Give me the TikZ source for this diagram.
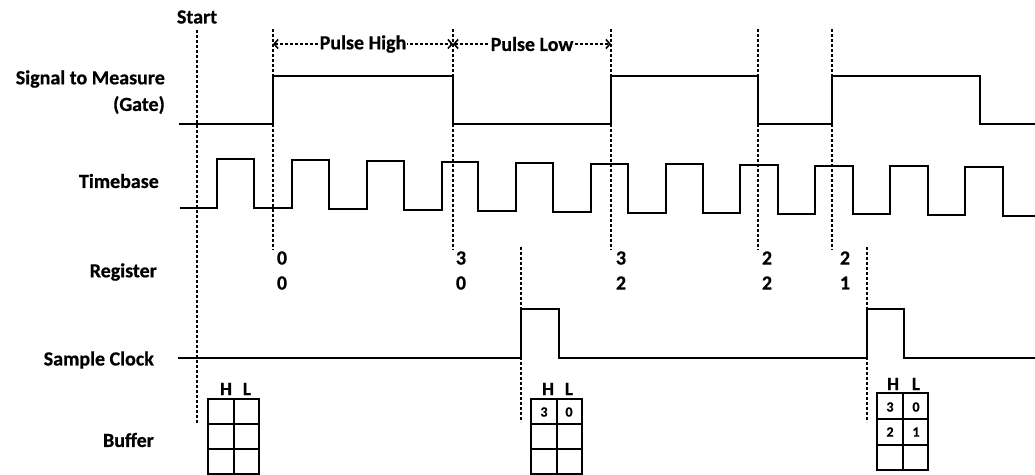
\documentclass[tikz,border=0pt]{standalone}
\usepackage{fontspec}
\setmainfont{Carlito}[BoldFeatures={FakeBold=0.6}]
\usetikzlibrary{arrows.meta}
\begin{document}
\begin{tikzpicture}[x=1pt,y=-1pt,
  sig/.style={line width=2.5pt, line join=miter},
  vdash/.style={line width=2.2pt, dash pattern=on 3pt off 2pt},
  lbl/.style={font=\fontsize{20}{24}\selectfont\bfseries, anchor=east, inner sep=0pt},
  txt/.style={font=\fontsize{20}{24}\selectfont\bfseries, inner sep=0pt},
  reg/.style={font=\fontsize{20}{22}\selectfont\bfseries, inner sep=0pt},
  cell/.style={font=\fontsize{14}{16}\selectfont\bfseries, inner sep=0pt},
  hl/.style={font=\fontsize{19}{21}\selectfont\bfseries, inner sep=0pt},
  buf/.style={line width=2.8pt},
  meas/.style={line width=1.6pt, dash pattern=on 3pt off 2pt,
    {Straight Barb[length=4pt,width=9pt,line width=1.6pt]}-{Straight Barb[length=4pt,width=9pt,line width=1.6pt]}}]
\useasboundingbox (0,0) rectangle (1035,474);
\fill[white] (0,0) rectangle (1035,474);

% labels
\node[txt] (start) at (197,17) {Start};
\node[lbl] (sig) at (165,79) {Signal to Measure};
\node[lbl] (gate) at (165,105) {(Gate)};
\node[lbl] (tb) at (159,181) {Timebase};
\node[lbl] (regl) at (157,272) {Register};
\node[lbl] (sc) at (154,360) {Sample Clock};
\node[lbl] (bufl) at (154,440) {Buffer};

% vertical dashed markers
\coordinate (s1) at (197,30); \coordinate (s2) at (197,423);
\draw[vdash] (s1) -- (s2);
\foreach \x/\n in {273/a,453/b,611/c,758/d,832/e}{
  \coordinate (\n1) at (\x,29); \coordinate (\n2) at (\x,250);
  \draw[vdash] (\n1) -- (\n2);
}
\foreach \x/\n in {521/f,867/g}{
  \coordinate (\n1) at (\x,247); \coordinate (\n2) at (\x,422);
  \draw[vdash] (\n1) -- (\n2);
}

% pulse high / low
\coordinate (p1) at (273,44); \coordinate (p2) at (453,44); \coordinate (p3) at (611,44);
\draw[meas] (p1) -- (p2) node[midway, fill=white, inner sep=1pt, font=\fontsize{20}{24}\selectfont\bfseries] (ph) {Pulse High};
\draw[meas] (p2) -- (p3) node[midway, fill=white, inner sep=1pt, font=\fontsize{20}{24}\selectfont\bfseries] (pl) {Pulse Low};

% gate signal
\draw[sig] (179,124) -- (273,124) -- (273,76) -- (453,76) -- (453,124) -- (611,124) -- (611,76) -- (758,76) -- (758,124) -- (832,124) -- (832,76) -- (980,76) -- (980,124) -- (1035,124);

% timebase
\draw[sig] (180,208) -- (217,208) -- (217,159) -- (254,159) -- (254,208) -- (292,208) -- (292,160) -- (329,160) -- (329,209) -- (367,209) -- (367,161) -- (404,161) -- (404,210) -- (442,210) -- (442,162) -- (478,162) -- (478,211) -- (516,211) -- (516,163) -- (553,163) -- (553,212) -- (591,212) -- (591,164) -- (628,164) -- (628,213) -- (666,213) -- (666,164) -- (703,164) -- (703,213) -- (740,213) -- (740,165) -- (778,165) -- (778,214) -- (815,214) -- (815,166) -- (853,166) -- (853,214) -- (890,214) -- (890,166) -- (928,166) -- (928,215) -- (965,215) -- (965,167) -- (1003,167) -- (1003,216) -- (1035,216);

% sample clock
\draw[sig] (178,358) -- (521,358) -- (521,309) -- (559,309) -- (559,358) -- (867,358) -- (867,309) -- (904,309) -- (904,358) -- (1035,358);

% register values
\foreach \x/\h/\l [count=\i] in {282/0/0,461/3/0,621/3/2,767/2/2,845/2/1}{
  \node[reg] (rh\i) at (\x,258) {\h};
  \node[reg] (rl\i) at (\x,283) {\l};
}

% buffers
\draw[buf] (208,399) rectangle (259,474);
\draw[buf] (234,399) -- (234,474) (208,424) -- (259,424) (208,449) -- (259,449);
\node[hl] (h1) at (226,389) {H}; \node[hl] (l1) at (247,389) {L};

\draw[buf] (531,399) rectangle (582,474);
\draw[buf] (557,399) -- (557,474) (531,424) -- (582,424) (531,449) -- (582,449);
\node[hl] (h2) at (548,389) {H}; \node[hl] (l2) at (569,389) {L};
\node[cell] (c21) at (544,412) {3}; \node[cell] (c22) at (569,412) {0};

\draw[buf] (877,393) rectangle (928,470);
\draw[buf] (903,393) -- (903,470) (877,419) -- (928,419) (877,445) -- (928,445);
\node[hl] (h3) at (893,384) {H}; \node[hl] (l3) at (916,384) {L};
\node[cell] (c31) at (890,407) {3}; \node[cell] (c32) at (916,407) {0};
\node[cell] (c33) at (890,432) {2}; \node[cell] (c34) at (916,432) {1};
\end{tikzpicture}
\end{document}
